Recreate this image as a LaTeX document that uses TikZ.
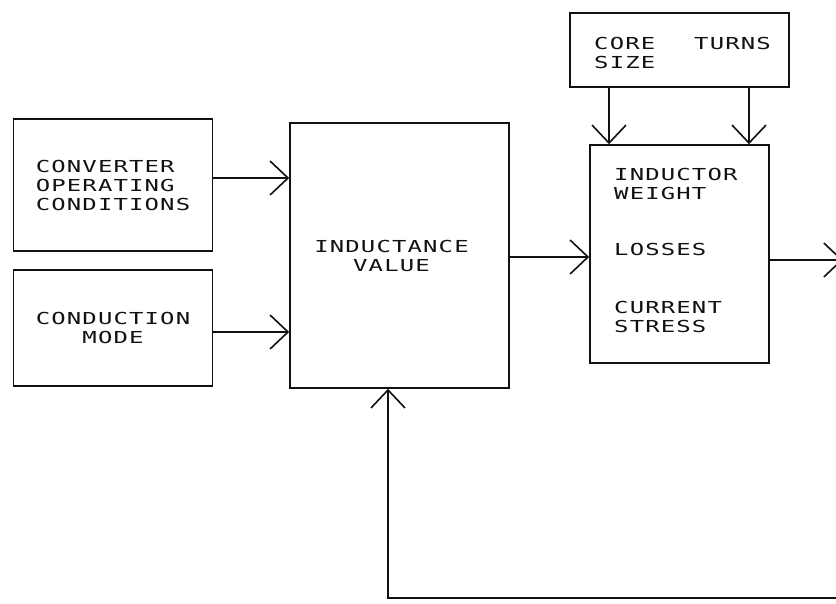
\documentclass[tikz,border=0pt]{standalone}
\usepackage{fontspec}
\usetikzlibrary{arrows.meta,positioning,calc}
\newfontfamily\plotfont{DejaVu Sans Mono}[FakeStretch=1.45,LetterSpace=7]
\definecolor{ink}{HTML}{111111}

\begin{document}
\begin{tikzpicture}[x=1pt,y=-1pt,>={Straight Barb[length=18pt,width=34pt]},
    block/.style={draw=ink,line width=1.6pt,rectangle,inner sep=0pt},
    txt/.style={ink,font=\plotfont\fontsize{16.5}{19}\selectfont,inner sep=0pt},
    flow/.style={->,draw=ink,line width=1.6pt}]
      \useasboundingbox (0,0) rectangle (836,603);

      % the five boxes, sized as in the drawing
      \node[block,minimum width=199pt,minimum height=132pt] (conv) at (113,185) {};
      \node[block,minimum width=199pt,minimum height=116pt] (mode) at (113,328) {};
      \node[block,minimum width=219pt,minimum height=265pt] (ind)  at (399.5,255.5) {};
      \node[block,minimum width=219pt,minimum height=74pt]  (core) at (679.5,50) {};
      \node[block,minimum width=179pt,minimum height=218pt] (res)  at (679.5,254) {};

      % texts
      \node[txt,align=left] (convtxt) at (conv.center) {CONVERTER\\OPERATING\\CONDITIONS};
      \node[txt,align=center] (modetxt) at (mode.center) {CONDUCTION\\MODE};
      \node[txt,align=center] (indtxt) at ([xshift=-8pt]ind.center) {INDUCTANCE\\VALUE};
      \node[txt,align=left,anchor=north west] (coretxt) at (594,37) {CORE\\SIZE};
      \node[txt,anchor=north west] (turnstxt) at (694,37) {TURNS};
      \node[txt,align=left,anchor=west] (restxt) at (614,250)
        {INDUCTOR\\WEIGHT\\[37pt]LOSSES\\[39pt]CURRENT\\STRESS};

      % connections
      \draw[flow] ([yshift=7pt]conv.east) -- ([yshift=7pt]conv.east -| ind.west);
      \draw[flow] ([yshift=-4pt]mode.east) -- ([yshift=-4pt]mode.east -| ind.west);
      \draw[flow] ([yshift=-1.5pt]ind.east) -- ([yshift=-1.5pt]ind.east -| res.west);
      \draw[flow] ([xshift=-70.5pt]core.south) -- ([xshift=-70.5pt]core.south |- res.north);
      \draw[flow] ([xshift=69.5pt]core.south) -- ([xshift=69.5pt]core.south |- res.north);

      % output and feedback run off the right edge
      \coordinate (out) at (843,260);
      \coordinate (fb) at (840,598);
      \draw[flow] ([yshift=-6pt]res.east) -- (out);
      \draw[flow] (fb) -| ([xshift=-11.5pt]ind.south);
    \end{tikzpicture}
\end{document}
